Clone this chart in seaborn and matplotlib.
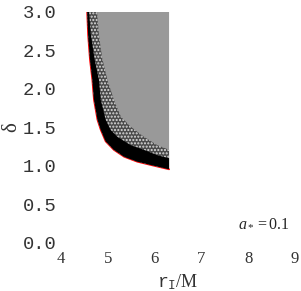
import seaborn as sns
import matplotlib
matplotlib.use("Agg")
import matplotlib.pyplot as plt

# outer (red) edge of the region (r_I/M, delta)
outer_r = [4.56, 4.58, 4.62, 4.67, 4.705, 4.78, 4.85, 4.955, 5.13, 5.35, 5.63, 5.92, 6.31]
outer_d = [3.00, 2.70, 2.38, 2.12, 1.86, 1.60, 1.47, 1.32, 1.21, 1.12, 1.056, 1.013, 0.957]

# inner edge of the solid black band
black_r = [4.60, 4.64, 4.72, 4.81, 4.85, 4.955, 5.06, 5.20, 5.49, 5.77, 6.06, 6.31]
black_d = [3.00, 2.70, 2.38, 2.12, 1.86, 1.60, 1.47, 1.38, 1.27, 1.21, 1.14, 1.10]

# inner edge of the speckled band
speck_r = [4.77, 4.81, 4.88, 4.99, 5.13, 5.28, 5.49, 5.77, 6.06, 6.31]
speck_d = [3.00, 2.70, 2.40, 2.12, 1.86, 1.64, 1.51, 1.38, 1.27, 1.21]

r_max = 6.31
d_top = 3.0

xticks = [4, 5, 6, 7, 8, 9]
yticks = [0.0, 0.5, 1.0, 1.5, 2.0, 2.5, 3.0]
marked = [5, 8]

sns.set_style("white")
plt.rcParams["mathtext.fontset"] = "custom"
plt.rcParams["mathtext.rm"] = "Liberation Serif"
plt.rcParams["mathtext.it"] = "Liberation Serif:italic"
plt.rcParams["mathtext.tt"] = "Liberation Mono"
plt.rcParams["hatch.color"] = "white"
plt.rcParams["hatch.linewidth"] = 1.0

fig = plt.figure(figsize=(3.01, 2.91), dpi=100)
ax = fig.add_axes([0.2027, 0.165, 0.777, 0.794])

# gray region
ax.fill(outer_r + [r_max, r_max], outer_d + [d_top, d_top], color="#999999", lw=0, zorder=1)
# red edge
sns.lineplot(x=outer_r, y=outer_d, sort=False, estimator=None, color="red", lw=1.3, ax=ax, zorder=2)
# speckled band
ax.fill(outer_r + speck_r[::-1], outer_d + speck_d[::-1], facecolor="#4a4a4a",
        hatch=".....", edgecolor="#dddddd", lw=0, zorder=3)
# black band
ax.fill(outer_r + black_r[::-1], outer_d + black_d[::-1], color="black", lw=0, zorder=4)

ax.set_xlim(4, 9)
ax.set_ylim(0, 3)
for s in ax.spines.values():
    s.set_visible(False)

ax.set_xticks(xticks)
ax.set_xticklabels([str(t) for t in xticks], fontfamily="Liberation Serif", fontsize=12)
ax.set_yticks(yticks)
ax.set_yticklabels([f"{t:.1f}" for t in yticks], fontfamily="Liberation Mono", fontsize=13.5)
ax.tick_params(axis="both", which="major", length=0, colors="#333333")
ax.tick_params(axis="x", which="major", pad=6)
ax.tick_params(axis="y", which="major", pad=3)
ax.set_xticks(marked, minor=True)
ax.tick_params(axis="x", which="minor", direction="in", length=4.5, width=0.7, color="#888888", bottom=True)

ax.set_xlabel(r"$\mathtt{r}_{\mathtt{I}}\mathrm{/M}$", fontsize=13, color="#333333")
ax.xaxis.label.set_va("center")
ax.xaxis.set_label_coords(0.5, -0.169)
ax.set_ylabel("δ", fontfamily="Liberation Serif", fontsize=15, color="#333333")
ax.yaxis.label.set_va("center")
ax.yaxis.set_label_coords(-0.212, 0.5)

ax.text(8.33, 0.27, r"$a_*\mathrm{=0.1}$", fontsize=11.5, ha="center", va="center")

fig.savefig("out.png", dpi=100)
